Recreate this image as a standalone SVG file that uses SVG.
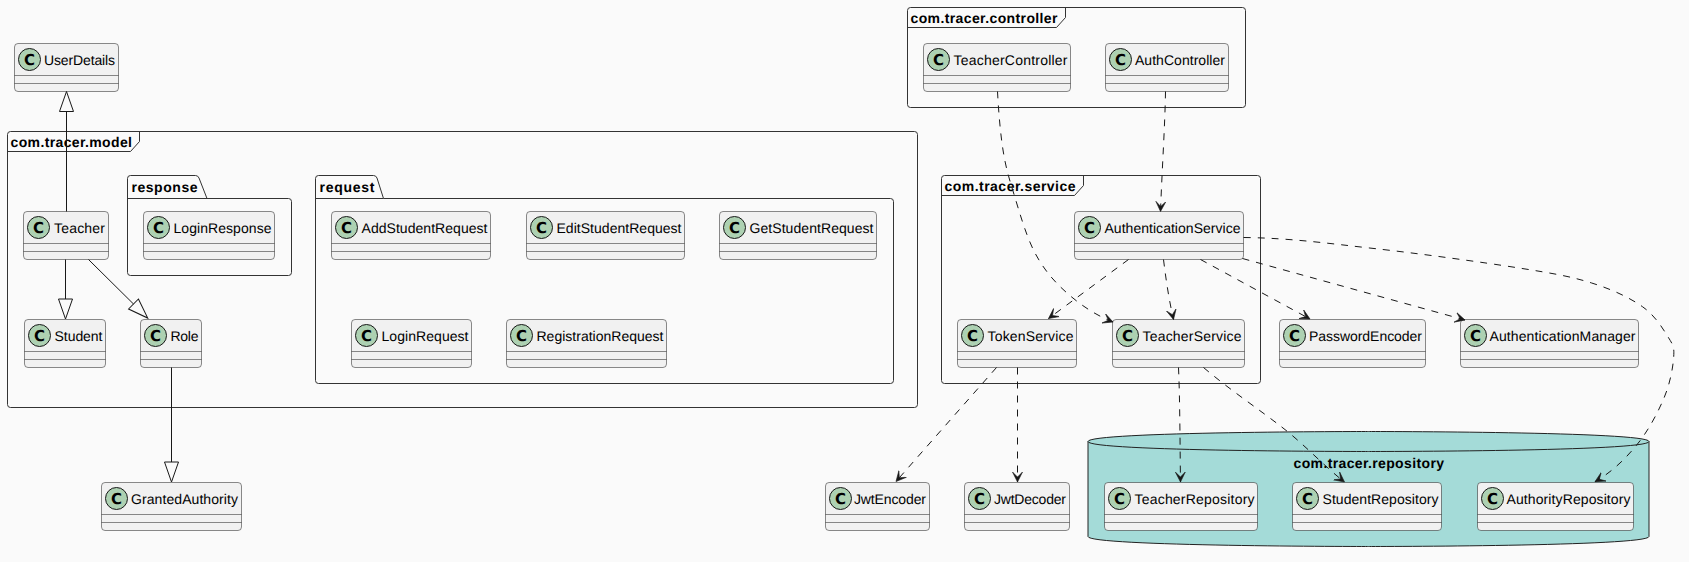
<svg xmlns="http://www.w3.org/2000/svg" width="1689" height="562" viewBox="0 0 1689 562">
<style>
text{font-family:"Liberation Sans",Arial,sans-serif;fill:#000;text-rendering:geometricPrecision}
.n{font-size:14px}
.b{font-size:14px;font-weight:bold}
.c{font-size:15px;font-weight:bold;text-anchor:middle;font-family:"DejaVu Sans",sans-serif}
.box{fill:#F1F1F1;stroke:#181818;stroke-width:.5}
.div{stroke:#181818;stroke-width:.5;fill:none}
.spot{fill:#ADD1B2;stroke:#181818;stroke-width:1}
.frame{fill:none;stroke:#333;stroke-width:1}
.dep{fill:none;stroke:#181818;stroke-width:1;stroke-dasharray:7 7;marker-end:url(#open)}
.ext{fill:none;stroke:#181818;stroke-width:1;marker-end:url(#tri)}
</style>
<defs>
<marker id="open" markerUnits="userSpaceOnUse" markerWidth="14" markerHeight="14" refX="10" refY="7" orient="auto"><path d="M0,2 L10,7 L0,12 L5,7 Z" fill="#181818" stroke="#181818" stroke-width=".6"/></marker>
<marker id="tri" markerUnits="userSpaceOnUse" markerWidth="24" markerHeight="18" refX="1" refY="9" orient="auto"><path d="M1,2 L21,9 L1,16 Z" fill="none" stroke="#181818" stroke-width="1"/></marker>
</defs>
<rect width="1689" height="562" fill="#FAFAFA"/>

<g id="pkg-model"><path class="frame" d="M10.5,131.5 H914.5 Q917.5,131.5 917.5,134.5 V404.5 Q917.5,407.5 914.5,407.5 H10.5 Q7.5,407.5 7.5,404.5 V134.5 Q7.5,131.5 10.5,131.5 Z"/><path class="frame" d="M139.5,131.5 V141.5 L130.5,151.5 H7.5"/><text class="b" x="10.5" y="146.5" textLength="121.5">com.tracer.model</text></g>
<g id="pkg-response"><path class="frame" d="M130.5,175.5 H195.5 Q198,175.5 199,178 L207,198.5 H288.5 Q291.5,198.5 291.5,201.5 V272.5 Q291.5,275.5 288.5,275.5 H130.5 Q127.5,275.5 127.5,272.5 V178.5 Q127.5,175.5 130.5,175.5 Z"/><path class="frame" d="M127.5,198.5 H207"/><text class="b" x="131.5" y="191.5" textLength="66">response</text></g>
<g id="pkg-request"><path class="frame" d="M318.5,175.5 H373.5 Q376,175.5 377,178 L383.5,198.5 H890.5 Q893.5,198.5 893.5,201.5 V380.5 Q893.5,383.5 890.5,383.5 H318.5 Q315.5,383.5 315.5,380.5 V178.5 Q315.5,175.5 318.5,175.5 Z"/><path class="frame" d="M315.5,198.5 H383.5"/><text class="b" x="319.5" y="191.5" textLength="55">request</text></g>
<g id="pkg-controller"><path class="frame" d="M910.5,7.5 H1242.5 Q1245.5,7.5 1245.5,10.5 V104.5 Q1245.5,107.5 1242.5,107.5 H910.5 Q907.5,107.5 907.5,104.5 V10.5 Q907.5,7.5 910.5,7.5 Z"/><path class="frame" d="M1065.5,7.5 V17.5 L1056.5,27.5 H907.5"/><text class="b" x="910.5" y="22.5" textLength="147">com.tracer.controller</text></g>
<g id="pkg-service"><path class="frame" d="M944.5,175.5 H1257.5 Q1260.5,175.5 1260.5,178.5 V380.5 Q1260.5,383.5 1257.5,383.5 H944.5 Q941.5,383.5 941.5,380.5 V178.5 Q941.5,175.5 944.5,175.5 Z"/><path class="frame" d="M1083.5,175.5 V185.5 L1074.5,195.5 H941.5"/><text class="b" x="944.5" y="190.5" textLength="131">com.tracer.service</text></g>
<g id="pkg-repository"><path d="M1088,441.5 C1088,431.5 1368.5,431.5 1368.5,431.5 C1368.5,431.5 1649,431.5 1649,441.5 V536.5 C1649,546.5 1368.5,546.5 1368.5,546.5 C1368.5,546.5 1088,546.5 1088,536.5 Z" fill="#A4DBD8" stroke="#222" stroke-width="1"/><path d="M1088,441.5 C1088,451.5 1368.5,451.5 1368.5,451.5 C1368.5,451.5 1649,451.5 1649,441.5" fill="none" stroke="#222" stroke-width="1"/><text class="b" x="1293.5" y="467.5" textLength="150.5">com.tracer.repository</text></g>

<g id="UserDetails"><rect class="box" x="14.5" y="43.5" width="104" height="48" rx="3.5"/><path class="div" d="M14.5,75.5 H118.5 M14.5,83.5 H118.5"/><circle class="spot" cx="29.5" cy="59.5" r="11"/><text class="c" x="29.5" y="64.8">C</text><text class="n" x="44" y="64.5" textLength="71">UserDetails</text></g>
<g id="Teacher"><rect class="box" x="23.5" y="211.5" width="85" height="48" rx="3.5"/><path class="div" d="M23.5,243.5 H108.5 M23.5,251.5 H108.5"/><circle class="spot" cx="38.5" cy="227.5" r="11"/><text class="c" x="38.5" y="232.8">C</text><text class="n" x="54" y="232.5" textLength="51">Teacher</text></g>
<g id="LoginResponse"><rect class="box" x="143.5" y="211.5" width="131" height="48" rx="3.5"/><path class="div" d="M143.5,243.5 H274.5 M143.5,251.5 H274.5"/><circle class="spot" cx="158.5" cy="227.5" r="11"/><text class="c" x="158.5" y="232.8">C</text><text class="n" x="173.5" y="232.5" textLength="98">LoginResponse</text></g>
<g id="AddStudentRequest"><rect class="box" x="331.5" y="211.5" width="159" height="48" rx="3.5"/><path class="div" d="M331.5,243.5 H490.5 M331.5,251.5 H490.5"/><circle class="spot" cx="346.5" cy="227.5" r="11"/><text class="c" x="346.5" y="232.8">C</text><text class="n" x="361.5" y="232.5" textLength="126">AddStudentRequest</text></g>
<g id="EditStudentRequest"><rect class="box" x="526.5" y="211.5" width="158" height="48" rx="3.5"/><path class="div" d="M526.5,243.5 H684.5 M526.5,251.5 H684.5"/><circle class="spot" cx="541.5" cy="227.5" r="11"/><text class="c" x="541.5" y="232.8">C</text><text class="n" x="556.5" y="232.5" textLength="125">EditStudentRequest</text></g>
<g id="GetStudentRequest"><rect class="box" x="719.5" y="211.5" width="157" height="48" rx="3.5"/><path class="div" d="M719.5,243.5 H876.5 M719.5,251.5 H876.5"/><circle class="spot" cx="734.5" cy="227.5" r="11"/><text class="c" x="734.5" y="232.8">C</text><text class="n" x="749.5" y="232.5" textLength="124">GetStudentRequest</text></g>
<g id="Student"><rect class="box" x="24.5" y="319.5" width="81" height="48" rx="3.5"/><path class="div" d="M24.5,351.5 H105.5 M24.5,359.5 H105.5"/><circle class="spot" cx="39.5" cy="335.5" r="11"/><text class="c" x="39.5" y="340.8">C</text><text class="n" x="54.5" y="340.5" textLength="48">Student</text></g>
<g id="Role"><rect class="box" x="140.5" y="319.5" width="61" height="48" rx="3.5"/><path class="div" d="M140.5,351.5 H201.5 M140.5,359.5 H201.5"/><circle class="spot" cx="155.5" cy="335.5" r="11"/><text class="c" x="155.5" y="340.8">C</text><text class="n" x="170.5" y="340.5" textLength="28">Role</text></g>
<g id="LoginRequest"><rect class="box" x="351.5" y="319.5" width="120" height="48" rx="3.5"/><path class="div" d="M351.5,351.5 H471.5 M351.5,359.5 H471.5"/><circle class="spot" cx="366.5" cy="335.5" r="11"/><text class="c" x="366.5" y="340.8">C</text><text class="n" x="381.5" y="340.5" textLength="87">LoginRequest</text></g>
<g id="RegistrationRequest"><rect class="box" x="506.5" y="319.5" width="160" height="48" rx="3.5"/><path class="div" d="M506.5,351.5 H666.5 M506.5,359.5 H666.5"/><circle class="spot" cx="521.5" cy="335.5" r="11"/><text class="c" x="521.5" y="340.8">C</text><text class="n" x="536.5" y="340.5" textLength="127">RegistrationRequest</text></g>
<g id="GrantedAuthority"><rect class="box" x="101.5" y="482.5" width="140" height="48" rx="3.5"/><path class="div" d="M101.5,514.5 H241.5 M101.5,522.5 H241.5"/><circle class="spot" cx="116.5" cy="498.5" r="11"/><text class="c" x="116.5" y="503.8">C</text><text class="n" x="131" y="503.5" textLength="107">GrantedAuthority</text></g>
<g id="TeacherController"><rect class="box" x="923.5" y="43.5" width="147" height="48" rx="3.5"/><path class="div" d="M923.5,75.5 H1070.5 M923.5,83.5 H1070.5"/><circle class="spot" cx="938.5" cy="59.5" r="11"/><text class="c" x="938.5" y="64.8">C</text><text class="n" x="953.5" y="64.5" textLength="114">TeacherController</text></g>
<g id="AuthController"><rect class="box" x="1105.5" y="43.5" width="123" height="48" rx="3.5"/><path class="div" d="M1105.5,75.5 H1228.5 M1105.5,83.5 H1228.5"/><circle class="spot" cx="1120.5" cy="59.5" r="11"/><text class="c" x="1120.5" y="64.8">C</text><text class="n" x="1135" y="64.5" textLength="90">AuthController</text></g>
<g id="AuthenticationService"><rect class="box" x="1074.5" y="211.5" width="169" height="48" rx="3.5"/><path class="div" d="M1074.5,243.5 H1243.5 M1074.5,251.5 H1243.5"/><circle class="spot" cx="1089.5" cy="227.5" r="11"/><text class="c" x="1089.5" y="232.8">C</text><text class="n" x="1104.5" y="232.5" textLength="136">AuthenticationService</text></g>
<g id="TokenService"><rect class="box" x="957.5" y="319.5" width="119" height="48" rx="3.5"/><path class="div" d="M957.5,351.5 H1076.5 M957.5,359.5 H1076.5"/><circle class="spot" cx="972.5" cy="335.5" r="11"/><text class="c" x="972.5" y="340.8">C</text><text class="n" x="987.5" y="340.5" textLength="86">TokenService</text></g>
<g id="TeacherService"><rect class="box" x="1112.5" y="319.5" width="132" height="48" rx="3.5"/><path class="div" d="M1112.5,351.5 H1244.5 M1112.5,359.5 H1244.5"/><circle class="spot" cx="1127.5" cy="335.5" r="11"/><text class="c" x="1127.5" y="340.8">C</text><text class="n" x="1142.5" y="340.5" textLength="99">TeacherService</text></g>
<g id="PasswordEncoder"><rect class="box" x="1279.5" y="319.5" width="146" height="48" rx="3.5"/><path class="div" d="M1279.5,351.5 H1425.5 M1279.5,359.5 H1425.5"/><circle class="spot" cx="1294.5" cy="335.5" r="11"/><text class="c" x="1294.5" y="340.8">C</text><text class="n" x="1309" y="340.5" textLength="113">PasswordEncoder</text></g>
<g id="AuthenticationManager"><rect class="box" x="1460.5" y="319.5" width="178" height="48" rx="3.5"/><path class="div" d="M1460.5,351.5 H1638.5 M1460.5,359.5 H1638.5"/><circle class="spot" cx="1475.5" cy="335.5" r="11"/><text class="c" x="1475.5" y="340.8">C</text><text class="n" x="1489.5" y="340.5" textLength="146">AuthenticationManager</text></g>
<g id="JwtEncoder"><rect class="box" x="825.5" y="482.5" width="104" height="48" rx="3.5"/><path class="div" d="M825.5,514.5 H929.5 M825.5,522.5 H929.5"/><circle class="spot" cx="840.5" cy="498.5" r="11"/><text class="c" x="840.5" y="503.8">C</text><text class="n" x="854" y="503.5" textLength="72">JwtEncoder</text></g>
<g id="JwtDecoder"><rect class="box" x="964.5" y="482.5" width="105" height="48" rx="3.5"/><path class="div" d="M964.5,514.5 H1069.5 M964.5,522.5 H1069.5"/><circle class="spot" cx="979.5" cy="498.5" r="11"/><text class="c" x="979.5" y="503.8">C</text><text class="n" x="994" y="503.5" textLength="72">JwtDecoder</text></g>
<g id="TeacherRepository"><rect class="box" x="1104.5" y="482.5" width="153" height="48" rx="3.5"/><path class="div" d="M1104.5,514.5 H1257.5 M1104.5,522.5 H1257.5"/><circle class="spot" cx="1119.5" cy="498.5" r="11"/><text class="c" x="1119.5" y="503.8">C</text><text class="n" x="1134.5" y="503.5" textLength="120">TeacherRepository</text></g>
<g id="StudentRepository"><rect class="box" x="1292.5" y="482.5" width="149" height="48" rx="3.5"/><path class="div" d="M1292.5,514.5 H1441.5 M1292.5,522.5 H1441.5"/><circle class="spot" cx="1307.5" cy="498.5" r="11"/><text class="c" x="1307.5" y="503.8">C</text><text class="n" x="1322.5" y="503.5" textLength="116">StudentRepository</text></g>
<g id="AuthorityRepository"><rect class="box" x="1477.5" y="482.5" width="156" height="48" rx="3.5"/><path class="div" d="M1477.5,514.5 H1633.5 M1477.5,522.5 H1633.5"/><circle class="spot" cx="1492.5" cy="498.5" r="11"/><text class="c" x="1492.5" y="503.8">C</text><text class="n" x="1506.5" y="503.5" textLength="124">AuthorityRepository</text></g>

<g id="connectors">
<path class="ext" d="M66.5,211.5 V111.5"/>
<path class="ext" d="M65.5,259.5 V299"/>
<path class="ext" d="M88.5,259.5 L133.5,304"/>
<path class="ext" d="M171.5,367.5 V462"/>
<path class="dep" d="M997.5,91.5 C998.5,110 1000.3,133.1 1003,150 C1005.7,166.9 1008.3,175.8 1013.6,193 C1018.9,210.2 1026.1,236.3 1035,253 C1043.9,269.7 1054,281.5 1067,293 C1080,304.5 1095,315 1113,322"/>
<path class="dep" d="M1165.5,91.5 C1165,125 1162,170 1160.5,211.5"/>
<path class="dep" d="M1163.5,259.5 C1166,280 1169,300 1173.5,319.5"/>
<path class="dep" d="M1128.5,259.5 L1048.5,318.5"/>
<path class="dep" d="M1200.5,259.5 L1310,319"/>
<path class="dep" d="M1242.5,258.5 L1465,320"/>
<path class="dep" d="M1243.5,237.5 C1290,238 1328.1,243.4 1374,248.5 C1419.9,253.6 1482.7,262.25 1519,268 C1555.3,273.75 1571.1,276.55 1591.7,283 C1612.3,289.45 1629.8,297.75 1642.5,306.7 C1655.2,315.65 1662.7,328.4 1667.9,336.7 C1673.1,345 1674.35,346.5 1673.7,356.7 C1673.05,366.9 1670.2,383.3 1664,398 C1657.8,412.7 1648.2,431 1636.7,445 C1625.2,459 1612,472 1595,481.7"/>
<path class="dep" d="M996.5,367.5 L896,481.5"/>
<path class="dep" d="M1017.5,367.5 V482"/>
<path class="dep" d="M1178.5,367.5 C1180,400 1180,450 1180.5,482"/>
<path class="dep" d="M1203.5,367.5 C1230,390 1260,410 1283,428 C1305,445 1325,467 1344.5,482"/>
</g>
</svg>
